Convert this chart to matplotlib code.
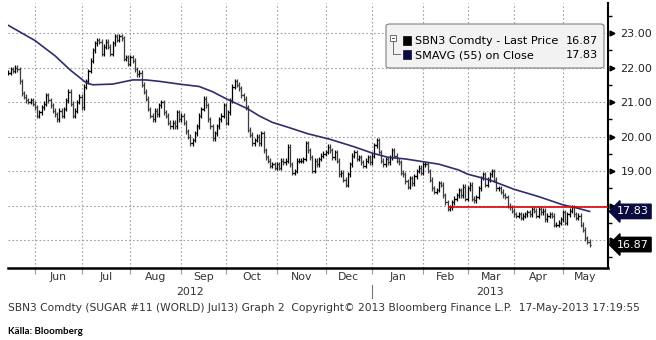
import numpy as np
import pandas as pd
import matplotlib
matplotlib.use("Agg")
import matplotlib.pyplot as plt
import matplotlib.transforms as mtransforms
from matplotlib.patches import FancyBboxPatch, Rectangle
from matplotlib.lines import Line2D

# Daily closes, SBN3 Comdty (sugar #11, Jul13), 16-May-2012 .. 17-May-2013
close = [
    21.85, 21.95, 21.90, 22.00, 21.95, 21.60, 21.25, 21.15, 21.05, 21.00,
    21.05, 20.95, 20.85, 20.60, 20.70, 20.85, 20.95, 21.20, 21.05, 20.90,
    20.75, 20.65, 20.50, 20.75, 20.60, 20.80, 21.05, 21.30, 20.95, 20.60,
    20.75, 21.00, 21.15, 20.85, 21.45, 21.60, 21.90, 22.20, 22.50, 22.70,
    22.80, 22.75, 22.40, 22.60, 22.75, 22.60, 22.40, 22.70, 22.90, 22.80,
    22.90, 22.85, 22.25, 22.30, 22.10, 22.30, 22.20, 21.95, 21.80, 21.85,
    21.50, 21.30, 21.10, 20.80, 20.60, 20.50, 20.75, 20.65, 20.90, 21.00,
    20.70, 20.60, 20.40, 20.30, 20.40, 20.30, 20.70, 20.50, 20.60, 20.40,
    20.15, 20.00, 19.80, 19.90, 20.10, 20.30, 20.60, 20.80, 21.10, 20.90,
    20.50, 20.30, 19.95, 20.10, 20.30, 20.50, 20.60, 20.90, 20.40, 20.70,
    21.05, 21.45, 21.60, 21.50, 21.40, 21.20, 21.10, 20.85, 20.20, 20.05,
    19.80, 19.90, 20.00, 19.80, 20.10, 19.60, 19.40, 19.30, 19.15, 19.20,
    19.10, 19.20, 19.10, 19.30, 19.25, 19.30, 19.70, 19.20, 18.95, 19.00,
    19.30, 19.30, 19.30, 19.35, 19.80, 19.60, 19.40, 19.00, 19.30, 19.20,
    19.35, 19.45, 19.50, 19.55, 19.70, 19.60, 19.40, 19.55, 19.30, 18.90,
    18.95, 18.75, 18.60, 18.90, 19.20, 19.45, 19.55, 19.35, 19.40, 19.25,
    19.15, 19.30, 19.40, 19.25, 19.45, 19.75, 19.90, 19.55, 19.30, 19.20,
    19.35, 19.25, 19.40, 19.60, 19.45, 19.30, 19.25, 18.95, 18.90, 18.70,
    18.55, 18.80, 18.65, 18.85, 19.00, 19.10, 18.95, 19.20, 19.20, 19.00,
    18.75, 18.50, 18.40, 18.45, 18.65, 18.60, 18.30, 18.10, 17.90, 17.95,
    18.10, 18.20, 18.30, 18.45, 18.30, 18.55, 18.20, 18.50, 18.60, 18.20,
    18.15, 18.25, 18.50, 18.80, 18.90, 18.60, 18.75, 18.90, 19.00, 18.75,
    18.50, 18.50, 18.40, 18.30, 18.25, 18.00, 17.95, 17.85, 17.75, 17.70,
    17.75, 17.65, 17.70, 17.75, 17.80, 17.75, 17.90, 17.85, 17.70, 17.90,
    17.80, 17.85, 17.60, 17.70, 17.75, 17.70, 17.45, 17.45, 17.50, 17.60,
    17.80, 17.50, 17.75, 17.85, 17.95, 17.75, 17.65, 17.70, 17.45, 17.30,
    17.05, 16.95, 16.87,
]

# 55-day simple moving average, read at selected trading days
sma_day = [0, 12, 21, 28, 35, 38, 47, 56, 62, 68, 77, 86, 92, 98, 104, 108,
           113, 119, 126, 135, 145, 156, 164, 171, 179, 187, 194, 203, 207,
           217, 228, 239, 250, 255, 262]
sma_val = [23.22, 22.78, 22.34, 21.92, 21.56, 21.50, 21.52, 21.64, 21.64,
           21.60, 21.52, 21.45, 21.30, 21.10, 20.92, 20.80, 20.60, 20.41,
           20.27, 20.08, 19.92, 19.70, 19.52, 19.40, 19.35, 19.27, 19.20,
           19.03, 18.91, 18.74, 18.47, 18.26, 18.02, 17.95, 17.83]

# support line drawn from the February low
support_level = 17.96
support_from = 198

footer = ("SBN3 Comdty (SUGAR #11 (WORLD) Jul13) Graph 2  Copyright\u00a9 2013 "
          "Bloomberg Finance L.P.  17-May-2013 17:19:55")

close = np.array(close)
dates = pd.bdate_range("2012-05-16", periods=len(close))
x = np.arange(len(close))

W, H = 656, 340
fig = plt.figure(figsize=(W / 100, H / 100), dpi=100)
fig.patch.set_facecolor("white")
ax = fig.add_axes([8 / W, 72 / H, 600 / W, 265 / H])

x_right = 270.3
ax.set_xlim(-0.2, x_right)
ax.set_ylim(16.19, 23.87)

# price bars
prev = np.r_[close[0], close[:-1]]
lo = np.minimum(prev, close) - 0.07
hi = np.maximum(prev, close) + 0.07
cols = np.where(close >= prev, "black", "#3c3c3c")
ax.vlines(x, lo, hi, colors=cols, lw=0.9, zorder=3)
ax.hlines(close, x, x + 0.55, colors=cols, lw=0.9, zorder=3)
ax.hlines(prev, x - 0.55, x, colors=cols, lw=0.9, zorder=3)

# moving average
ax.plot(sma_day, sma_val, color="#2e2e6e", lw=1.2, zorder=4)

# support line
ax.hlines(support_level, support_from, x_right, colors="#e00000", lw=1.2, zorder=5)

# grid + axes styling
month_start = [i for i in range(1, len(dates)) if dates[i].month != dates[i - 1].month]
ax.set_xticks(month_start)
ax.set_xticklabels([])
yt = np.arange(17, 24)
ax.set_yticks(yt)
ax.set_yticks(np.arange(16.5, 24, 1.0), minor=True)
ax.grid(True, which="major", color="#a0a0a0", lw=0.8, linestyle=(0, (1.5, 2)))
for s in ["left", "top"]:
    ax.spines[s].set_visible(False)
ax.spines["right"].set_linewidth(1.5)
ax.spines["bottom"].set_linewidth(1.8)
ax.tick_params(axis="x", length=4, color="#9a9a9a", direction="out")
ax.yaxis.tick_right()
ax.tick_params(axis="y", which="major", length=0, pad=9, labelsize=8, labelcolor="#222222")
ax.tick_params(axis="y", which="minor", length=3, width=1, color="black")
# 17 and 18 sit under the value tags
ax.set_yticklabels(["" if v < 19 else f"{v:.2f}" for v in yt])
ax.plot(np.full(len(yt), 1.006), yt, ">", color="black", ms=3.5,
        transform=mtransforms.blended_transform_factory(ax.transAxes, ax.transData),
        clip_on=False)

# value tags on the right
tag_tr = mtransforms.blended_transform_factory(ax.transAxes, ax.transData)
ax.text(1.015, sma_val[-1], f"{sma_val[-1]:.2f}", transform=tag_tr, color="white",
        fontsize=8, va="center", ha="left",
        bbox=dict(boxstyle="larrow,pad=0.2", fc="#0a0a40", ec="#0a0a40"))
ax.text(1.015, close[-1], f"{close[-1]:.2f}", transform=tag_tr, color="white",
        fontsize=8, va="center", ha="left",
        bbox=dict(boxstyle="larrow,pad=0.2", fc="black", ec="black"))

# month / year labels under the axis
lab_tr = mtransforms.blended_transform_factory(ax.transData, fig.transFigure)
bounds = month_start + [x_right]
for k in range(len(month_start)):
    mid = (bounds[k] + bounds[k + 1]) / 2
    ax.text(mid, 1 - 277 / H, dates[month_start[k]].strftime("%b"), transform=lab_tr,
            ha="center", va="center", fontsize=7.8, color="#333333")
year_cut = [i for i in month_start if dates[i].month == 1][0]
ax.text((-0.2 + year_cut) / 2, 1 - 292 / H, "2012", transform=lab_tr,
        ha="center", va="center", fontsize=7.8, color="#333333")
ax.text((year_cut + x_right) / 2, 1 - 292 / H, "2013", transform=lab_tr,
        ha="center", va="center", fontsize=7.8, color="#333333")
ax.add_line(Line2D([year_cut, year_cut], [1 - 285 / H, 1 - 298 / H], transform=lab_tr,
                   color="#777777", lw=0.8, clip_on=False))

fig.text(8 / W, 1 - 308 / H, footer, fontsize=7.7, color="#333333", va="center")
fig.text(8 / W, 1 - 331 / H, "Källa: Bloomberg", fontsize=7, fontweight="bold",
         family=["Lato", "DejaVu Sans"], va="center")

# legend panel
def fx(px):
    return px / W


def fy(py):
    return 1 - py / H


fig.add_artist(FancyBboxPatch((fx(386), fy(68)), fx(604) - fx(386), fy(24) - fy(68),
                              boxstyle="round,pad=0,rounding_size=0.006",
                              transform=fig.transFigure, fc="#f2f2f2", ec="#808080", lw=0.8))
fig.add_artist(Rectangle((fx(390), fy(41)), fx(6), fy(35) - fy(41), transform=fig.transFigure,
                         fc="white", ec="#555555", lw=0.6))
fig.add_artist(Line2D([fx(391.5), fx(394.5)], [fy(38), fy(38)], transform=fig.transFigure,
                      color="#333333", lw=0.6))
fig.add_artist(Line2D([fx(393), fx(393), fx(400)], [fy(41), fy(54), fy(54)],
                      transform=fig.transFigure, color="#555555", lw=0.6))
fig.add_artist(Rectangle((fx(403), fy(45)), fx(8), fy(36) - fy(45), transform=fig.transFigure,
                         fc="black", ec="black", lw=0.5))
fig.add_artist(Rectangle((fx(403), fy(59)), fx(8), fy(50) - fy(59), transform=fig.transFigure,
                         fc="#0a0a40", ec="#0a0a40", lw=0.5))
fig.text(fx(415), fy(40.5), "SBN3 Comdty - Last Price", fontsize=8.1, va="center")
fig.text(fx(415), fy(55), "SMAVG (55) on Close", fontsize=8.1, va="center")
fig.text(fx(598), fy(40.5), f"{close[-1]:.2f}", fontsize=8.1, va="center", ha="right")
fig.text(fx(598), fy(55), f"{sma_val[-1]:.2f}", fontsize=8.1, va="center", ha="right")

fig.savefig("out.png", dpi=100, facecolor="white")
